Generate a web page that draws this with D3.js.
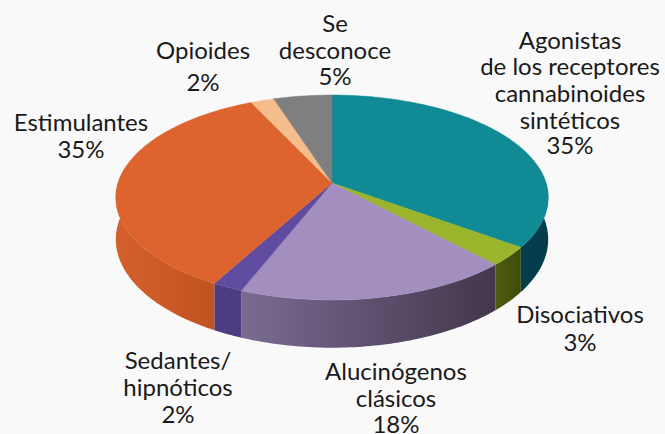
<!DOCTYPE html>
<html>
<head>
<meta charset="utf-8">
<script src="https://cdn.jsdelivr.net/npm/d3@7"></script>
<style>
html, body { margin: 0; padding: 0; background: #f9f9f9; overflow: hidden; }
svg { display: block; }
text { font-family: "Lato", sans-serif; font-size: 24px; fill: #1a1a1a; text-anchor: middle; }
</style>
</head>
<body>
<script>
var categories = [
    "Agonistas de los receptores cannabinoides sintéticos",
    "Disociativos",
    "Alucinógenos clásicos",
    "Sedantes/hipnóticos",
    "Estimulantes",
    "Opioides",
    "Se desconoce"
];
var values = [35, 3, 18, 2, 35, 2, 5];
var topColors = ["#108a94", "#9ab52c", "#a28fc0", "#5f4ba0", "#de642f", "#f6bd8c", "#7f7f7f"];
var sideColors = [
    ["#03505e", "#033c4a"],
    ["#4d5c10", "#3f4c0c"],
    ["#7a6b92", "#43374c"],
    ["#4c3c80", "#4c3c80"],
    ["#d4602c", "#b94f1e"],
    ["#d09a70", "#d09a70"],
    ["#666666", "#666666"]
];
var labelLines = [
    ["Agonistas", "de los receptores", "cannabinoides", "sintéticos", "35%"],
    ["Disociativos", "3%"],
    ["Alucinógenos", "clásicos", "18%"],
    ["Sedantes/", "hipnóticos", "2%"],
    ["Estimulantes", "35%"],
    ["Opioides", "2%"],
    ["Se", "desconoce", "5%"]
];
var labelX = [570, 580, 396, 178, 81, 203, 335];
var labelY = [
    [49, 75, 102, 129, 154],
    [323, 351],
    [380, 407, 433],
    [369, 396, 423],
    [131, 158],
    [59, 91],
    [32, 59, 85]
];

var width = 665, height = 434;
var cx = 332, cy = 183;
var rx = 214, ryScale = 100.4, persp = 0.1415, depth = 41;

var svg = d3.select("body").append("svg")
    .attr("width", width)
    .attr("height", height);

// tilted disc: u runs left to right, v runs back to front
var scaleU = d3.scaleLinear().domain([-1, 1]).range([-rx, rx]);
var scaleV = d3.scaleLinear().domain([-1, 1]).range([-ryScale, ryScale]);

function project(angle, r, drop) {
    var u = r * Math.sin(angle), v = -r * Math.cos(angle);
    var k = 1 / (1 - persp * v);
    return [cx + scaleU(u) * k, cy + scaleV(v) * k + drop * depth * k];
}

function arcPoints(a0, a1, drop) {
    var n = Math.max(2, Math.ceil((a1 - a0) * 60));
    return d3.range(n + 1).map(function (i) {
        return project(a0 + (a1 - a0) * i / n, 1, drop);
    });
}

var arcs = d3.pie().sort(null).value(function (d) { return d; })(values);
var line = d3.line();
var defs = svg.append("defs");

// one gradient per wall, left to right on the screen
arcs.forEach(function (d, i) {
    var xs = arcPoints(d.startAngle, d.endAngle, 0).map(function (p) { return p[0]; });
    var grad = defs.append("linearGradient")
        .attr("id", "wall" + i)
        .attr("gradientUnits", "userSpaceOnUse")
        .attr("x1", d3.min(xs)).attr("x2", d3.max(xs))
        .attr("y1", 0).attr("y2", 0);
    grad.append("stop").attr("offset", 0).attr("stop-color", sideColors[i][0]);
    grad.append("stop").attr("offset", 1).attr("stop-color", sideColors[i][1]);
});

// walls, only the front half of the rim can be seen
var front = arcs.map(function (d, i) {
    var a0 = Math.max(d.startAngle, Math.PI * 0.45);
    var a1 = Math.min(d.endAngle, Math.PI * 1.55);
    return { i: i, a0: a0, a1: a1 };
}).filter(function (d) { return d.a1 > d.a0; });

svg.append("g").selectAll("path")
    .data(front)
    .enter()
    .append("path")
    .attr("fill", function (d) { return "url(#wall" + d.i + ")"; })
    .attr("d", function (d) {
        var pts = arcPoints(d.a0, d.a1, 0).concat(arcPoints(d.a0, d.a1, 1).reverse());
        return line(pts) + "Z";
    });

// top faces
svg.append("g").selectAll("path")
    .data(arcs)
    .enter()
    .append("path")
    .attr("fill", function (d, i) { return topColors[i]; })
    .attr("stroke", function (d, i) { return topColors[i]; })
    .attr("stroke-width", 0.5)
    .attr("d", function (d) {
        return line([[cx, cy]].concat(arcPoints(d.startAngle, d.endAngle, 0))) + "Z";
    });

// labels
var labels = svg.append("g").selectAll("text")
    .data(labelLines)
    .enter()
    .append("text");

labels.selectAll("tspan")
    .data(function (d, i) {
        return d.map(function (t, j) { return { t: t, x: labelX[i], y: labelY[i][j] }; });
    })
    .enter()
    .append("tspan")
    .attr("x", function (l) { return l.x; })
    .attr("y", function (l) { return l.y; })
    .text(function (l) { return l.t; });
</script>
</body>
</html>
